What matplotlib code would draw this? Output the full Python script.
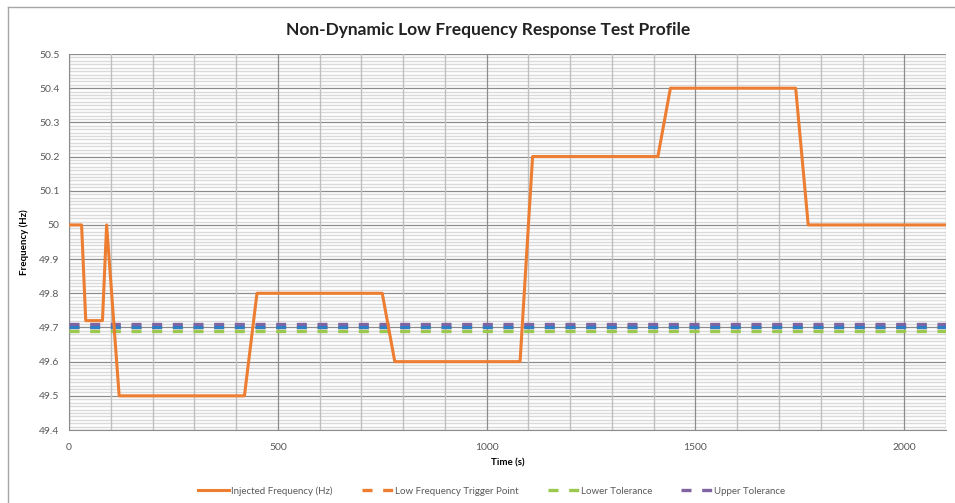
import matplotlib
matplotlib.use('Agg')
import matplotlib.pyplot as plt
from matplotlib.lines import Line2D
from matplotlib.ticker import MultipleLocator

plt.rcParams['font.family'] = ['Lato', 'DejaVu Sans']

# injected frequency profile (time in s, frequency in Hz)
time_s = [0, 30, 40, 80, 90, 120, 420, 450, 750, 780, 1080, 1110, 1410, 1440, 1740, 1770, 2100]
freq_hz = [50.0, 50.0, 49.72, 49.72, 50.0, 49.5, 49.5, 49.8, 49.8, 49.6, 49.6, 50.2, 50.2, 50.4, 50.4, 50.0, 50.0]

# constant reference levels
trigger_x = [0, 2100]
trigger_hz = [49.70, 49.70]
lower_tol = [49.69, 49.69]
upper_tol = [49.71, 49.71]
trigger_overlay = [49.70, 49.70]

fig = plt.figure(figsize=(9.55, 5.03), dpi=100)
ax = fig.add_axes([0.0723, 0.1451, 0.9183, 0.7475])

# grid
ax.xaxis.set_major_locator(MultipleLocator(500))
ax.xaxis.set_minor_locator(MultipleLocator(100))
ax.yaxis.set_major_locator(MultipleLocator(0.1))
ax.yaxis.set_minor_locator(MultipleLocator(0.01))
ax.grid(which='major', axis='both', color='#8c8c8c', linewidth=0.9)
ax.grid(which='minor', axis='x', color='#bfbfbf', linewidth=1.0)
ax.grid(which='minor', axis='y', color='#dadada', linewidth=1.0)
ax.set_axisbelow(True)
ax.xaxis.set_zorder(0.6)  # vertical grid over the fine horizontal one

dash = (0, (3.0, 3.2))
ax.plot(trigger_x, trigger_hz, color='#ed7d31', linewidth=2.4, linestyle=dash, zorder=3)
ax.plot(trigger_x, lower_tol, color='#9bc94f', linewidth=2.4, linestyle=dash, zorder=3)
ax.plot(trigger_x, upper_tol, color='#8064a2', linewidth=2.4, linestyle=dash, zorder=3)
ax.plot(trigger_x, trigger_overlay, color='#2f7fc8', linewidth=2.4, linestyle=dash, zorder=4)
ax.plot(time_s, freq_hz, color='#ed7d31', linewidth=2.2, zorder=5)

ax.set_xlim(0, 2100)
ax.set_ylim(49.4, 50.5)
ax.set_xticks([0, 500, 1000, 1500, 2000])
ax.set_yticks([49.4, 49.5, 49.6, 49.7, 49.8, 49.9, 50.0, 50.1, 50.2, 50.3, 50.4, 50.5])
ax.set_yticklabels(['49.4', '49.5', '49.6', '49.7', '49.8', '49.9', '50', '50.1', '50.2', '50.3', '50.4', '50.5'])
ax.tick_params(which='both', length=0, labelsize=7.5, labelcolor='#595959', pad=7)
ax.tick_params(which='major', axis='x', pad=9)

for side in ['top', 'right']:
    ax.spines[side].set_visible(False)
ax.spines['left'].set_color('#8c8c8c')
ax.spines['bottom'].set_color('#8c8c8c')

ax.set_xlabel('Time (s)', fontsize=7, fontweight='bold', labelpad=5)
ax.set_ylabel('Frequency (Hz)', fontsize=7, fontweight='bold', labelpad=7)
fig.text(0.511, 0.94, 'Non-Dynamic Low Frequency Response Test Profile',
         ha='center', va='center', fontsize=12.5, fontweight='bold', color='#222222')

handles = [
    Line2D([], [], color='#ed7d31', linewidth=2.2),
    Line2D([], [], color='#ed7d31', linewidth=2.4, linestyle=dash),
    Line2D([], [], color='#9bc94f', linewidth=2.4, linestyle=dash),
    Line2D([], [], color='#8064a2', linewidth=2.4, linestyle=dash),
]
labels = ['Injected Frequency (Hz)', 'Low Frequency Trigger Point', 'Lower Tolerance', 'Upper Tolerance']
fig.legend(handles, labels, loc='center', bbox_to_anchor=(0.515, 0.024), ncol=4, frameon=False,
           fontsize=7, labelcolor='#595959', handlelength=3.2, handletextpad=0.2, columnspacing=3.0)

# outer chart frame
fig.add_artist(Line2D([8 / 955, 1], [1 - 7 / 503, 1 - 7 / 503], transform=fig.transFigure, color='#a6a6a6', linewidth=1))
fig.add_artist(Line2D([8 / 955, 8 / 955], [0, 1 - 7 / 503], transform=fig.transFigure, color='#a6a6a6', linewidth=1))

fig.savefig('out.png', dpi=100)
